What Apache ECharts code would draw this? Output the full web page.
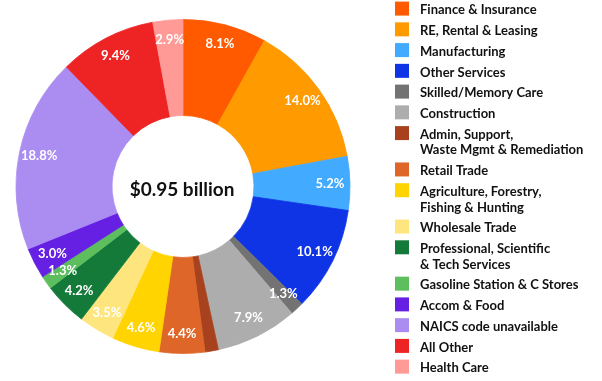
<!DOCTYPE html>
<html>
<head>
<meta charset="utf-8">
<script src="https://cdn.jsdelivr.net/npm/echarts@6/dist/echarts.min.js"></script>
<style>
  html, body { margin: 0; padding: 0; background: #ffffff; }
  #chart { width: 602px; height: 381px; }
</style>
</head>
<body>
<div id="chart"></div>
<script>
// Industry mix, shares in percent (clockwise from 12 o'clock)
const categories = [
  'Finance & Insurance',
  'RE, Rental & Leasing',
  'Manufacturing',
  'Other Services',
  'Skilled/Memory Care',
  'Construction',
  'Admin, Support,\nWaste Mgmt & Remediation',
  'Retail Trade',
  'Agriculture, Forestry,\nFishing & Hunting',
  'Wholesale Trade',
  'Professional, Scientific\n& Tech Services',
  'Gasoline Station & C Stores',
  'Accom & Food',
  'NAICS code unavailable',
  'All Other',
  'Health Care'
];
const shares = [8.1, 14.0, 5.2, 10.1, 1.3, 7.9, 1.3, 4.4, 4.6, 3.5, 4.2, 1.3, 3.0, 18.8, 9.4, 2.9];
const colors = [
  '#FF5A00', '#FF9A00', '#42AAFF', '#0E34E6', '#737373', '#ADADAD',
  '#A8421E', '#DE6628', '#FFD400', '#FFE57E', '#137A3A', '#5DBE5E',
  '#6520E4', '#AB8DF2', '#EE2424', '#FF9A96'
];
const totalLabel = '$0.95 billion';

const CX = 183, CY = 186.5;
const R_OUT = 167, R_IN = 71;
const FONT = 'Lato, "Open Sans", sans-serif';

// same-colour hairline stroke closes the anti-aliasing seams between slices
const pieData = categories.map((name, i) => ({
  name: name,
  value: shares[i],
  itemStyle: { color: colors[i], borderColor: colors[i], borderWidth: 0.8 }
}));

// Legend: colour square + label, two-line names take an extra line
const legendEls = [];
let rowCenter = 10.2;
const ROW_STEP = 20.75, LINE_STEP = 15.6;
categories.forEach((name, i) => {
  const lines = name.split('\n').length;
  legendEls.push({
    type: 'rect',
    shape: { x: 395, y: rowCenter - 1.6 - 7, width: 14, height: 14 },
    style: { fill: colors[i] },
    silent: true
  });
  legendEls.push({
    type: 'text',
    style: {
      text: name,
      x: 420,
      y: rowCenter - LINE_STEP / 2,
      verticalAlign: 'top',
      align: 'left',
      lineHeight: LINE_STEP,
      font: 'bold 13px ' + FONT,
      fill: '#111111'
    },
    silent: true
  });
  rowCenter += (lines - 1) * LINE_STEP + ROW_STEP;
});

const chart = echarts.init(document.getElementById('chart'), null, { renderer: 'canvas' });
chart.setOption({
  animation: false,
  backgroundColor: '#ffffff',
  series: [
    {
      // donut slices
      type: 'pie',
      center: [CX, CY],
      radius: [R_IN, R_OUT],
      startAngle: 90,
      clockwise: true,
      silent: true,
      label: { show: false },
      labelLine: { show: false },
      emphasis: { disabled: true },
      data: pieData
    },
    {
      // percentage labels, placed toward the outer rim
      type: 'pie',
      center: [CX, CY],
      radius: [120.5, 167.5],
      startAngle: 90,
      clockwise: true,
      silent: true,
      itemStyle: { color: 'transparent', borderWidth: 0 },
      label: {
        show: true,
        position: 'inside',
        color: '#ffffff',
        fontFamily: FONT,
        fontWeight: 'bold',
        fontSize: 13,
        formatter: p => p.value.toFixed(1) + '%'
      },
      labelLine: { show: false },
      emphasis: { disabled: true },
      data: categories.map((name, i) => ({ name: name, value: shares[i] }))
    }
  ],
  graphic: [
    {
      type: 'text',
      style: {
        text: totalLabel,
        x: CX - 1,
        y: 190,
        align: 'center',
        verticalAlign: 'middle',
        font: 'bold 19px ' + FONT,
        fill: '#111111'
      },
      silent: true
    }
  ].concat(legendEls)
});
</script>
</body>
</html>
